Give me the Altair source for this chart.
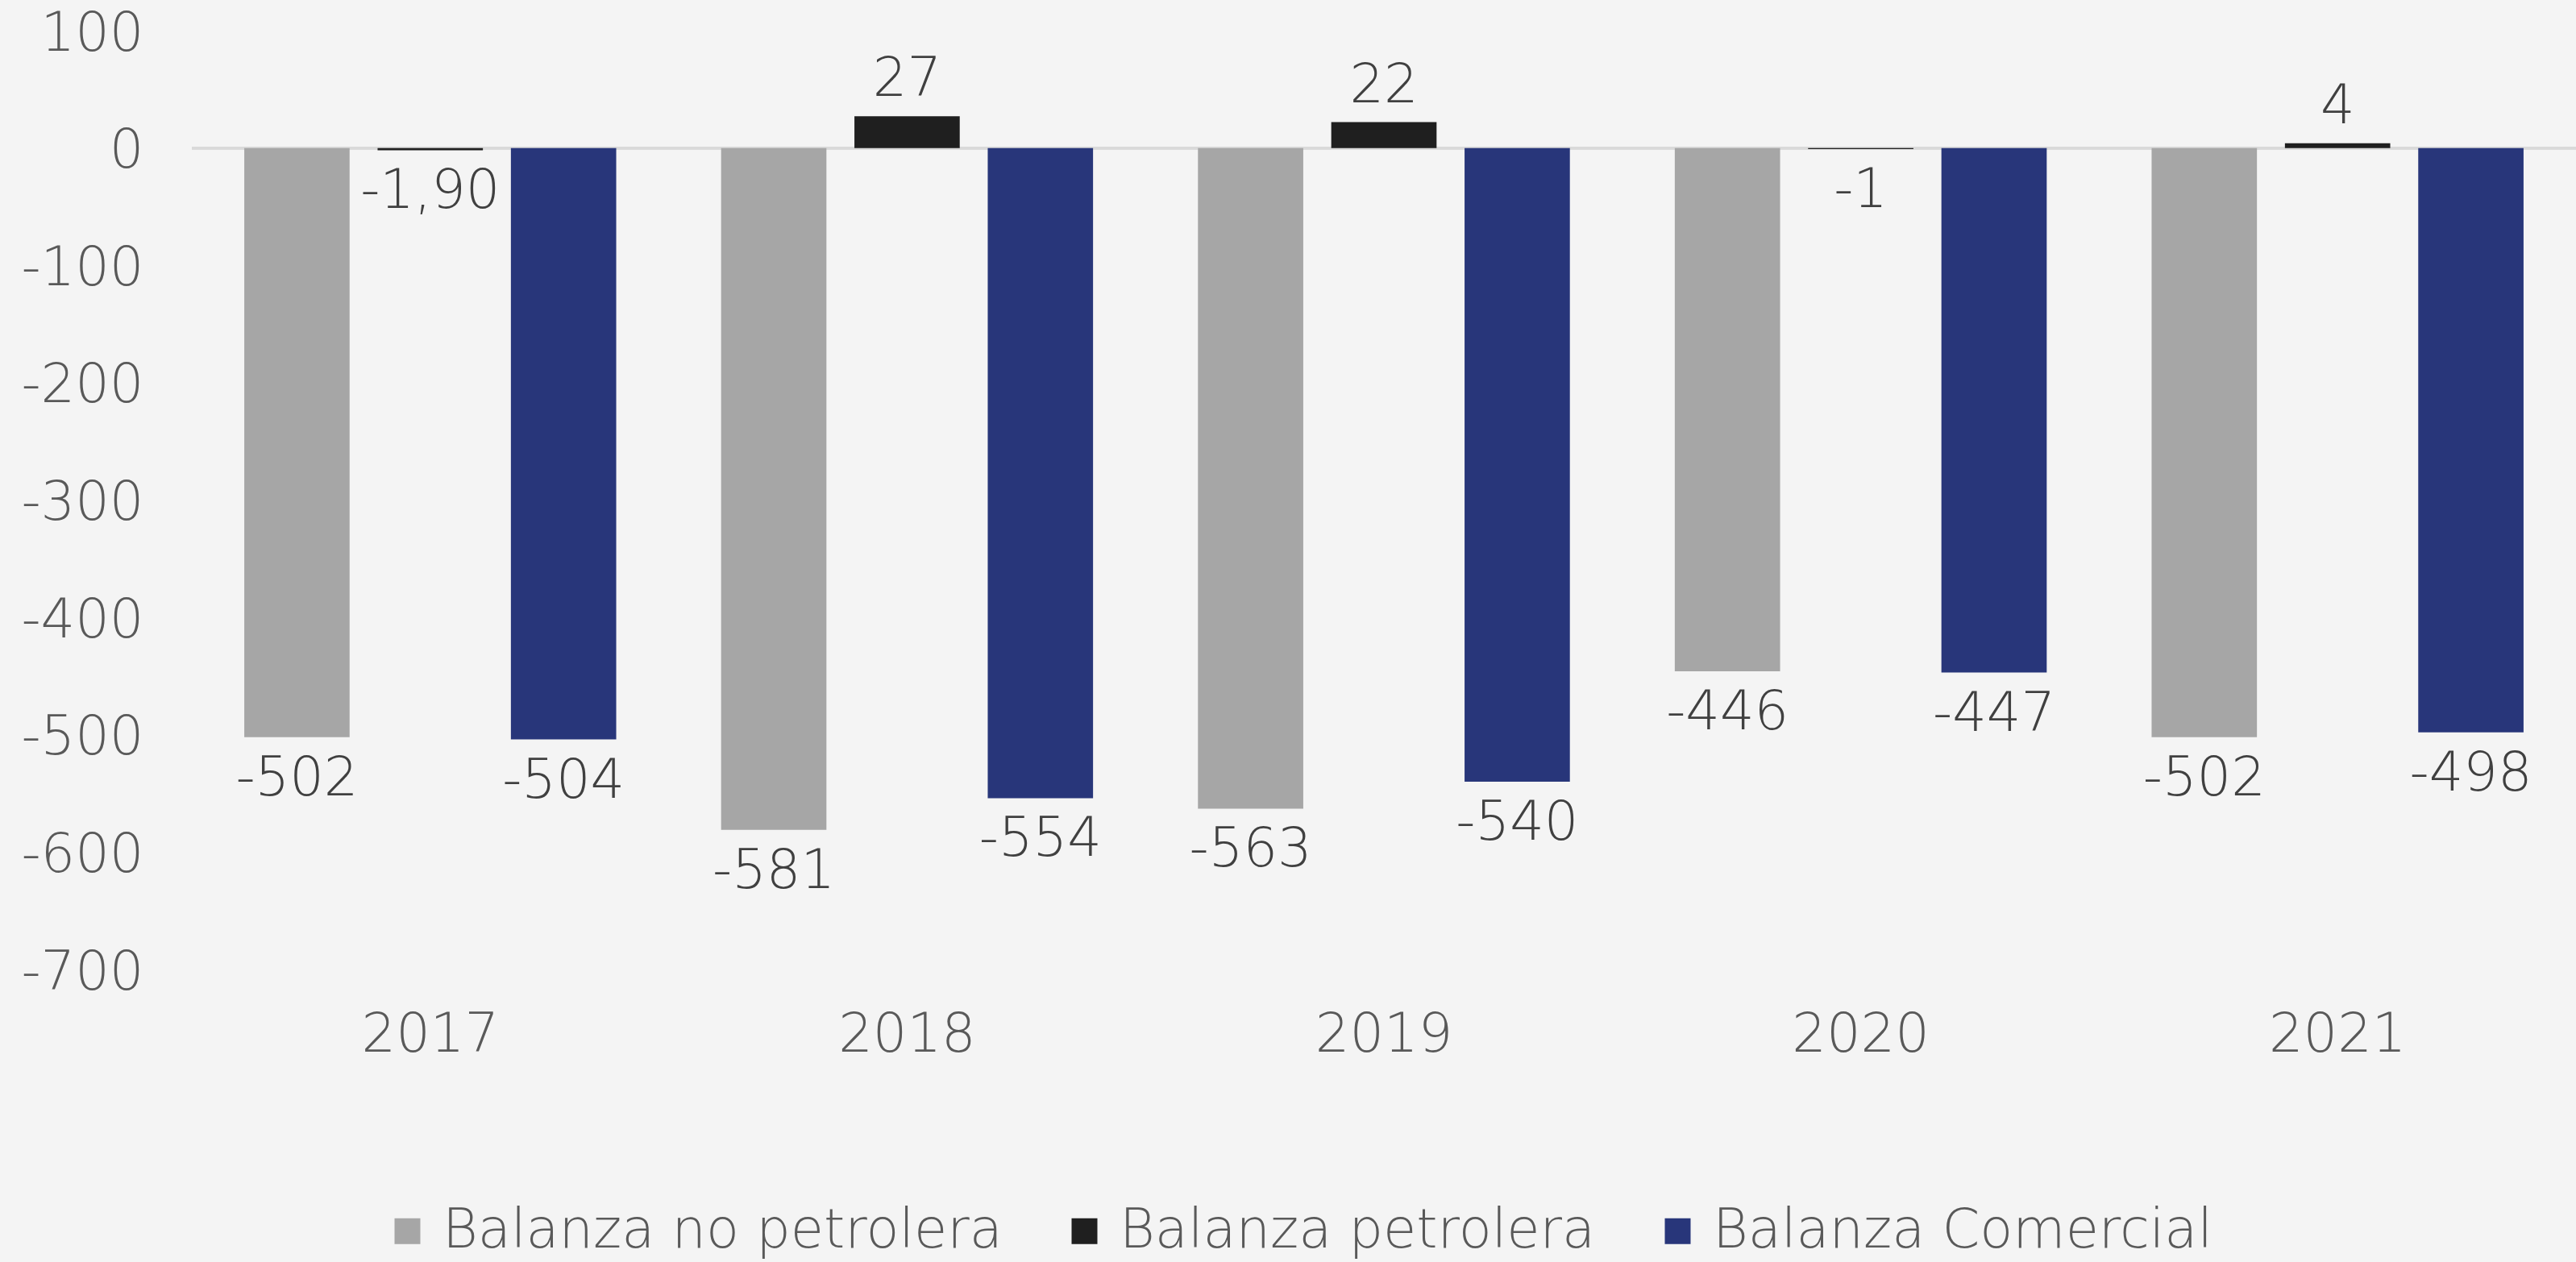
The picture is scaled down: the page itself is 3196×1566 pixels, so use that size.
import altair as alt
import pandas as pd

years = ["2017", "2018", "2019", "2020", "2021"]
series = ["Balanza no petrolera", "Balanza petrolera", "Balanza Comercial"]
colors = ["#a6a6a6", "#1f1f1f", "#28367a"]

no_petrolera = [-502, -581, -563, -446, -502]
petrolera = [-1.90, 27, 22, -1, 4]
comercial = [-504, -554, -540, -447, -498]

no_petrolera_lbl = ["-502", "-581", "-563", "-446", "-502"]
petrolera_lbl = ["-1,90", "27", "22", "-1", "4"]
comercial_lbl = ["-504", "-554", "-540", "-447", "-498"]

y_ticks = [100, 0, -100, -200, -300, -400, -500, -600, -700]

rows = []
for s, vals, lbls in zip(series, [no_petrolera, petrolera, comercial],
                         [no_petrolera_lbl, petrolera_lbl, comercial_lbl]):
    for yr, v, l in zip(years, vals, lbls):
        rows.append({"year": yr, "serie": s, "value": v, "label": l})
df = pd.DataFrame(rows)

FONT = "DejaVu Sans"
FW = 200
FS = 67

x_enc = alt.X("year:N", sort=years,
              scale=alt.Scale(paddingInner=0.22, paddingOuter=0.11),
              axis=alt.Axis(title=None, domain=False, ticks=False, labelAngle=0,
                            labelFontSize=FS, labelFont=FONT, labelFontWeight=FW,
                            labelColor="#595959", labelPadding=48))
xo_enc = alt.XOffset("serie:N", sort=series,
                     scale=alt.Scale(paddingInner=0.21, paddingOuter=0))
y_scale = alt.Scale(domain=[-700, 100], nice=False)

bars = alt.Chart(df).mark_bar().encode(
    x=x_enc,
    xOffset=xo_enc,
    y=alt.Y("value:Q", scale=y_scale,
            axis=alt.Axis(title=None, domain=False, ticks=False, grid=False,
                          values=y_ticks, labelExpr="'' + datum.value",
                          labelFontSize=FS, labelFont=FONT,
                          labelFontWeight=FW, labelColor="#595959",
                          labelPadding=60, labelOffset=4)),
    color=alt.Color("serie:N", sort=series,
                    scale=alt.Scale(domain=series, range=colors),
                    legend=alt.Legend(orient="none", legendX=234, legendY=1456,
                                      direction="horizontal", title=None,
                                      symbolType="square", symbolSize=1024,
                                      symbolStrokeWidth=0, labelLimit=0,
                                      labelFontSize=FS, labelFont=FONT,
                                      labelFontWeight=FW, labelColor="#595959",
                                      labelOffset=10, columnPadding=68)),
)

zero = alt.Chart(df).mark_rule(color="#d9d9d9", strokeWidth=3).encode(y=alt.datum(0))

neg_text = alt.Chart(df).transform_filter("datum.value < 0").mark_text(
    baseline="middle", dy=52, fontSize=FS, font=FONT, fontWeight=FW, color="#404040"
).encode(x=alt.X("year:N", sort=years), xOffset=alt.XOffset("serie:N", sort=series),
         y=alt.Y("value:Q", scale=y_scale), text="label:N")

pos_text = alt.Chart(df).transform_filter("datum.value >= 0").mark_text(
    baseline="middle", dy=-45, fontSize=FS, font=FONT, fontWeight=FW, color="#404040"
).encode(x=alt.X("year:N", sort=years), xOffset=alt.XOffset("serie:N", sort=series),
         y=alt.Y("value:Q", scale=y_scale), text="label:N")

chart = alt.layer(zero, bars, neg_text, pos_text).properties(
    width=2958, height=1165,
    autosize=alt.AutoSizeParams(type="none"),
    padding={"left": 238, "top": 38, "right": 0, "bottom": 363},
    background="#f4f4f4",
).configure_view(stroke=None)

chart.save("out.html", embed_options={"renderer": "svg", "actions": False})
